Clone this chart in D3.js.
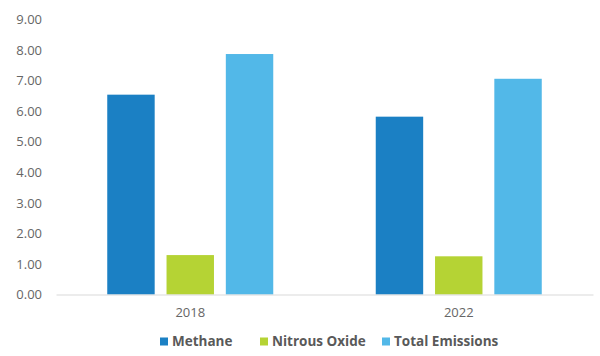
<!DOCTYPE html>
<html><head><meta charset="utf-8">
<script src="https://cdn.jsdelivr.net/npm/d3@7"></script>
<style>body{margin:0;background:#fff}</style>
</head><body><svg id="c" width="600" height="356"></svg>
<script>
const years = ["2018", "2022"];
const seriesNames = ["Methane", "Nitrous Oxide", "Total Emissions"];
const methane = [6.54, 5.82];
const nitrousOxide = [1.29, 1.25];
const totalEmissions = [7.87, 7.06];
const yTicks = [0, 1, 2, 3, 4, 5, 6, 7, 8, 9];
const colors = ["#1b80c4", "#b5d334", "#52b8e8"];

(function () {
const seriesValues = [methane, nitrousOxide, totalEmissions];
const svg = d3.select("#c");
const font = "'Open Sans', sans-serif";
const mLeft = 56, mRight = 593, mTop = 19.5, mBottom = 294.5;

const y = d3.scaleLinear().domain([0, 9]).range([mBottom, mTop]);
const x0 = d3.scaleBand().domain(years).range([mLeft, mRight]).padding(0);
const x1 = d3.scaleBand().domain(seriesNames).range([-83, 83]).paddingInner(0.2).paddingOuter(0);
const color = d3.scaleOrdinal().domain(seriesNames).range(colors);

// y tick labels
const yAxis = d3.axisLeft(y).tickValues(yTicks).tickFormat(d3.format(".2f")).tickSize(0).tickPadding(0);
const ga = svg.append("g").attr("transform", `translate(42,0)`).call(yAxis);
ga.select(".domain").remove();
ga.selectAll("text").attr("fill", "#666").attr("font-size", 13).attr("font-family", font);

// bars
years.forEach((yr, i) => {
  const cx = x0(yr) + x0.bandwidth() / 2;
  seriesNames.forEach((s, j) => {
    const v = seriesValues[j][i];
    svg.append("rect")
      .attr("x", cx + x1(s))
      .attr("width", x1.bandwidth())
      .attr("y", y(v))
      .attr("height", y(0) - y(v))
      .attr("fill", color(s));
  });
});

// x axis
const xAxis = d3.axisBottom(x0).tickSize(0).tickPadding(13);
const gx = svg.append("g").attr("transform", `translate(0,${mBottom})`).call(xAxis);
gx.select(".domain").attr("stroke", "#d9d9d9").attr("stroke-width", 1);
gx.selectAll("text").attr("fill", "#666").attr("font-size", 13).attr("font-family", font);

// legend
const legendX = [160, 260, 382];
const lg = svg.append("g");
seriesNames.forEach((s, j) => {
  lg.append("rect").attr("x", legendX[j]).attr("y", 337.5).attr("width", 8).attr("height", 8).attr("fill", color(s));
  lg.append("text").attr("x", legendX[j] + 12).attr("y", 346)
    .attr("font-family", font).attr("font-weight", "bold").attr("font-size", 13.5)
    .attr("fill", "#595959").text(s);
});
})();
</script></body></html>
